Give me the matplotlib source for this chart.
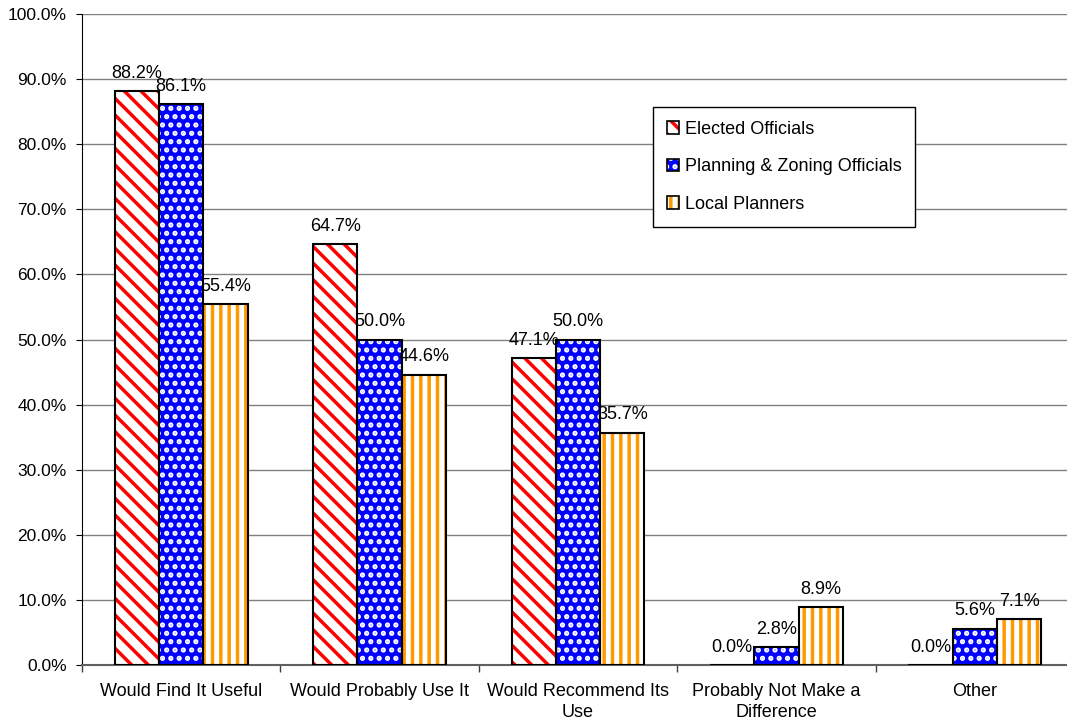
import matplotlib
matplotlib.use('Agg')
import matplotlib.pyplot as plt
from matplotlib.patches import Patch
from matplotlib.legend_handler import HandlerTuple
from matplotlib.ticker import FuncFormatter, FixedLocator
import numpy as np

categories = ['Would Find It Useful', 'Would Probably Use It', 'Would Recommend Its\nUse',
              'Probably Not Make a\nDifference', 'Other']
elected = [88.2, 64.7, 47.1, 0.0, 0.0]
planning = [86.1, 50.0, 50.0, 2.8, 5.6]
local = [55.4, 44.6, 35.7, 8.9, 7.1]
series_names = ['Elected Officials', 'Planning & Zoning Officials', 'Local Planners']

plt.rcParams['font.family'] = ['Liberation Sans', 'DejaVu Sans']
plt.rcParams['font.size'] = 13
plt.rcParams['hatch.linewidth'] = 2.5

# face colour, hatch colour, hatch
styles = [('white', '#FF0000', '\\\\'),
          ('#0000FF', 'white', '..'),
          ('white', '#FF9900', '||')]

fig = plt.figure(figsize=(10.67, 7.24), dpi=100)
ax = fig.add_axes([82 / 1067, 1 - 665 / 724, 992 / 1067, 651 / 724])

x = np.arange(len(categories)) + 0.5
w = 0.223
allData = [elected, planning, local]
handles = []
for i, vals in enumerate(allData):
    face, hcol, hatch = styles[i]
    pos = x + (i - 1) * w
    ax.bar(pos, vals, w, color=face, edgecolor=hcol, hatch=hatch, linewidth=0, zorder=2)
    ax.bar(pos, vals, w, fill=False, edgecolor='black', linewidth=1.5, zorder=3)
    for px, v in zip(pos, vals):
        ax.annotate('%.1f%%' % v, (px, v), xytext=(0, 9.5), textcoords='offset points',
                    ha='center', va='baseline', fontsize=13)
    h1 = Patch(facecolor=face, edgecolor=hcol, hatch=hatch, linewidth=0)
    h2 = Patch(fill=False, edgecolor='black', linewidth=1.2)
    handles.append((h1, h2))

ax.set_xlim(0, 5)
ax.set_ylim(0, 100)
ax.yaxis.set_major_locator(FixedLocator(np.arange(0, 101, 10)))
ax.yaxis.set_major_formatter(FuncFormatter(lambda v, p: '%.1f%%' % v))
ax.set_xticks(x)
ax.set_xticklabels(categories, linespacing=1.3)
ax.set_xticks(np.arange(0, 6), minor=True)
ax.tick_params(axis='x', which='major', length=0, pad=13, labelsize=13)
ax.tick_params(axis='x', which='minor', length=5, color='#404040', width=1)
ax.tick_params(axis='y', length=4, pad=7, color='black', labelsize=12.5)

ax.grid(axis='y', color='#808080', linewidth=1, zorder=0)
ax.set_axisbelow(True)
ax.spines['top'].set_visible(False)
ax.spines['right'].set_visible(False)
ax.spines['left'].set_color('black')
ax.spines['bottom'].set_color('#606060')
ax.spines['bottom'].set_linewidth(1.5)

leg = fig.legend(handles, series_names, handler_map={tuple: HandlerTuple(ndivide=1, pad=0)},
                 loc='upper left', bbox_to_anchor=(653 / 1067, 1 - 107 / 724),
                 borderaxespad=0, fontsize=13, frameon=True, fancybox=False, framealpha=1,
                 edgecolor='black', handlelength=0.7, handleheight=0.7,
                 handletextpad=0.3, labelspacing=1.15, borderpad=0.75)
leg.get_frame().set_linewidth(1)

fig.savefig('out.png', dpi=100)
